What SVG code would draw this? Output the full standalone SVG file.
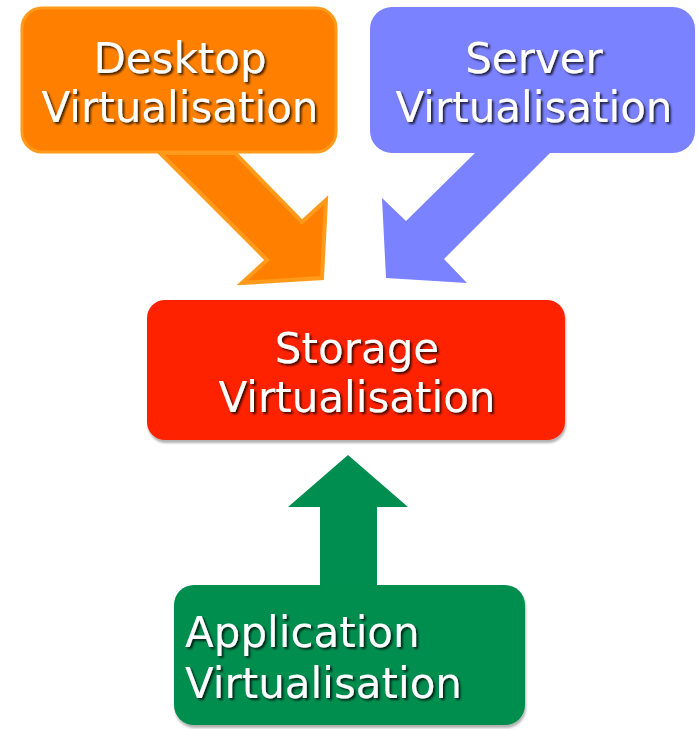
<svg xmlns="http://www.w3.org/2000/svg" width="698" height="729" viewBox="0 0 698 729">
<defs>
<filter id="ts" x="-10%" y="-30%" width="120%" height="160%">
<feDropShadow dx="2" dy="2" stdDeviation="1" flood-color="#000" flood-opacity="0.75"/>
</filter>
<filter id="bs" x="-5%" y="-5%" width="110%" height="115%">
<feDropShadow dx="1" dy="3" stdDeviation="1.2" flood-color="#000" flood-opacity="0.3"/>
</filter>
</defs>
<style>
text{font-family:"DejaVu Sans","Verdana",sans-serif;font-size:42px;fill:#fff;filter:url(#ts)}
.c{text-anchor:middle}
</style>
<g id="connectors">
<polygon id="arrow-desktop" points="160,153 235,153 302,222 326,200 322,278 242,283 267,260" fill="#FF8000" stroke="#FF9A1A" stroke-width="4" stroke-linejoin="miter"/>
<polygon id="arrow-server" points="475,153 550,153 444,259 467,283 386,278 382,198 406,221" fill="#7B82FF"/>
<polygon id="arrow-app" points="348,455 408,507 377,507 377,590 320,590 320,507 288,507" fill="#008E50"/>
</g>
<g id="desktop">
<rect x="22" y="8" width="314" height="144" rx="20" fill="#FF8000" stroke="#FF9A1A" stroke-width="3"/>
<text class="c" x="180" y="73">Desktop</text>
<text class="c" x="180" y="122">Virtualisation</text>
</g>
<g id="server">
<rect x="370" y="7" width="325" height="146" rx="22" fill="#7B82FF"/>
<text class="c" x="534" y="73">Server</text>
<text class="c" x="534" y="122">Virtualisation</text>
</g>
<g id="storage">
<rect x="147" y="300" width="418" height="140" rx="18" fill="#FF2200" filter="url(#bs)"/>
<text class="c" x="357" y="363">Storage</text>
<text class="c" x="357" y="412">Virtualisation</text>
</g>
<g id="application">
<rect x="174" y="585" width="351" height="140" rx="20" fill="#008E50" filter="url(#bs)"/>
<text x="185" y="647">Application</text>
<text x="185" y="698">Virtualisation</text>
</g>
</svg>
